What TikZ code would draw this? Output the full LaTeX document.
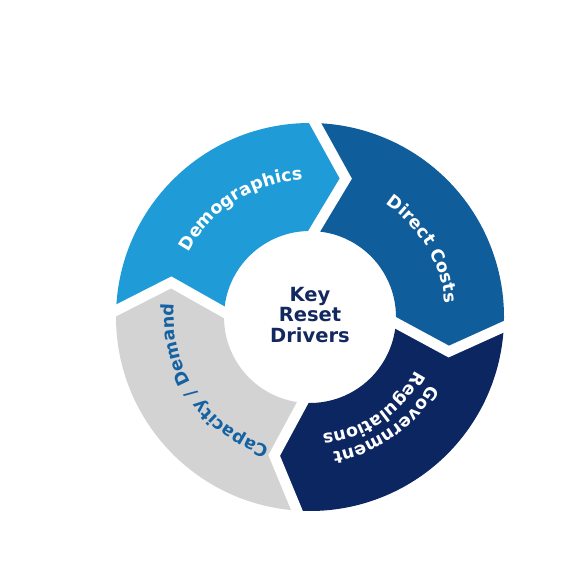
\documentclass[tikz,border=0pt]{standalone}
\usepackage{fontspec}
\setmainfont{DejaVu Sans}
\usetikzlibrary{decorations.text}
\definecolor{demo}{HTML}{1F9CD7}
\definecolor{direct}{HTML}{0F5D9B}
\definecolor{gov}{HTML}{0C2661}
\definecolor{capa}{HTML}{D3D3D3}
\definecolor{capatext}{HTML}{1562A3}
\definecolor{navy}{HTML}{13285E}
\newcommand\lblfont{\fontsize{17.5}{20}\selectfont\bfseries}
% segment: color, start angle, start notch angle, end angle, end tip angle
\newcommand\ringseg[5]{%
  \fill[#1] (#2:194pt) arc[start angle=#2, end angle=#4, radius=194pt]
    -- (#5:143pt) -- (#4:86pt) arc[start angle=#4, end angle=#2, radius=86pt]
    -- (#3:143pt) -- cycle;}
\newcommand\ringgap[2]{%
  \draw[gapline] (#1:200pt) -- (#2:143pt) -- (#1:80pt);}
\tikzset{
  gapline/.style={white, line width=10.5pt, line join=miter},
  ringlabel/.style={decorate, decoration={text along path, text align=center, text={#1}}}
}
\begin{document}
\begin{tikzpicture}
\useasboundingbox (0,0) rectangle (575pt,575pt);
\begin{scope}[shift={(310pt,258pt)}]
  \ringseg{demo}{179}{166}{89.5}{75.5}
  \ringseg{direct}{89.5}{75.5}{-2}{-14}
  \ringseg{gov}{-2}{-14}{-93}{-104.5}
  \ringseg{capa}{267}{255.5}{179}{166}
  \ringgap{89.5}{75.5}
  \ringgap{-2}{-14}
  \ringgap{-93}{-104.5}
  \ringgap{179}{166}
  \path[ringlabel={|\lblfont\color{white}|Demographics}]
    (175:137.5pt) arc[start angle=175, end angle=70, radius=137.5pt];
  \path[ringlabel={|\lblfont\color{white}|Direct Costs}]
    (84:136pt) arc[start angle=84, end angle=-22, radius=136pt];
  \path[ringlabel={|\lblfont\color{white}|Government}]
    (-2:137pt) arc[start angle=-2, end angle=-108, radius=137pt];
  \path[ringlabel={|\lblfont\color{white}|Regulations}]
    (-2.5:118pt) arc[start angle=-2.5, end angle=-108.5, radius=118pt];
  \path[ringlabel={|\lblfont\color{capatext}|Capacity / Demand}]
    (266.5:136pt) arc[start angle=266.5, end angle=160.5, radius=136pt];
\end{scope}
\node[font=\fontsize{19.5}{20.5}\selectfont\bfseries, text=navy, align=center, inner sep=0pt]
  (title) at (310pt,260pt) {Key\\Reset\\Drivers};
\end{tikzpicture}
\end{document}
